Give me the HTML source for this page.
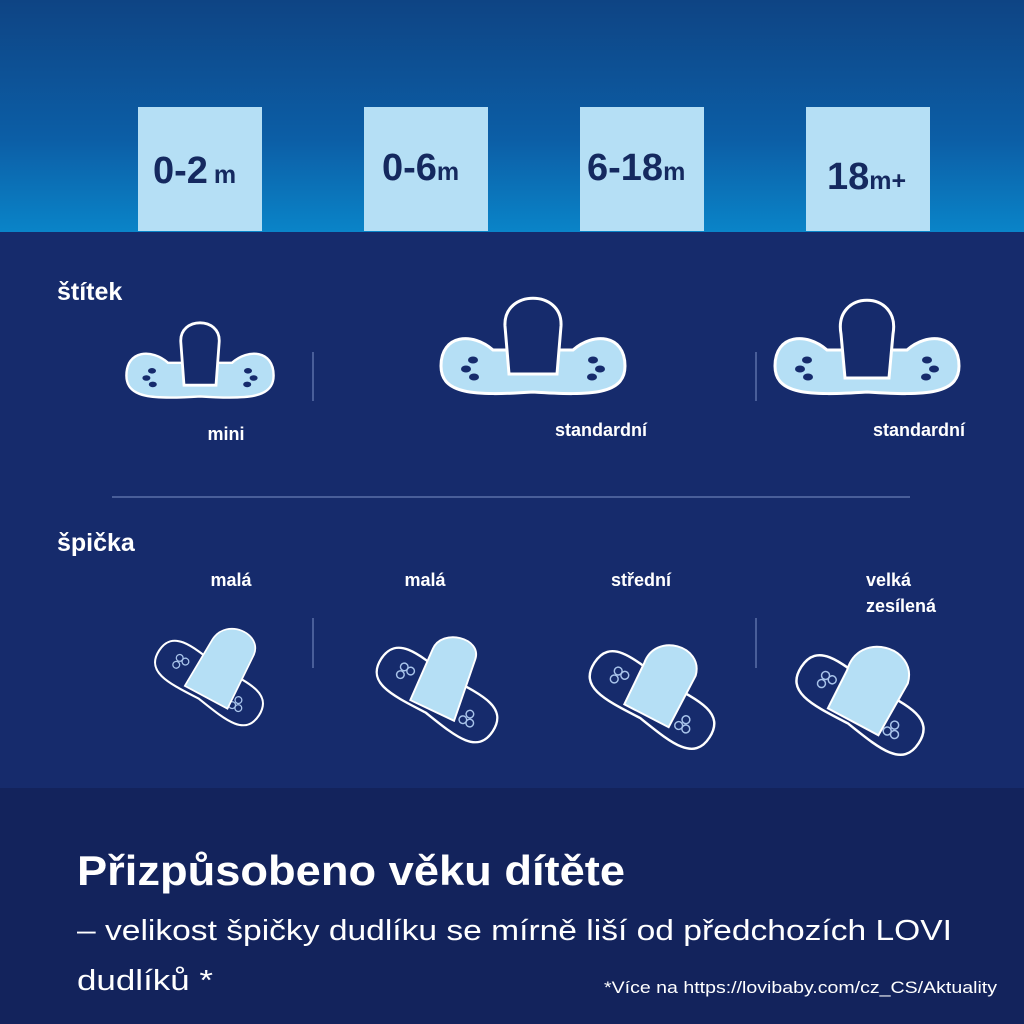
<!DOCTYPE html>
<html><head><meta charset="utf-8"><style>
html,body{margin:0;padding:0;width:1024px;height:1024px;overflow:hidden;background:#162b6c}
svg{display:block}
text{font-family:"Liberation Sans",sans-serif}
</style></head><body>
<svg width="1024" height="1024" viewBox="0 0 1024 1024" xmlns="http://www.w3.org/2000/svg">
<defs>
<linearGradient id="tg" x1="0" y1="0" x2="0" y2="1">
<stop offset="0" stop-color="#0e4484"/>
<stop offset="0.6" stop-color="#0c5ea6"/>
<stop offset="1" stop-color="#0a84c8"/>
</linearGradient>
<g id="shield">
<path d="M -40,-14 C -60,-32 -92,-30 -92,2 C -92,30 -60,32 0,28 C 60,32 92,30 92,2 C 92,-30 60,-32 40,-14 Z" fill="#b5dff5" stroke="#fff" stroke-width="3"/>
<g fill="#162b6c">
<ellipse cx="-60" cy="-4" rx="5" ry="3.5"/><ellipse cx="-67" cy="5" rx="5" ry="3.5"/><ellipse cx="-59" cy="13" rx="5" ry="3.5"/>
<ellipse cx="60" cy="-4" rx="5" ry="3.5"/><ellipse cx="67" cy="5" rx="5" ry="3.5"/><ellipse cx="59" cy="13" rx="5" ry="3.5"/>
</g>
</g>
<g id="tip">
<g transform="rotate(33)">
<path d="M -70,0 C -70,-30 -40,-26 0,-22 C 40,-26 70,-30 70,0 C 70,30 40,26 0,22 C -40,26 -70,30 -70,0 Z" fill="#162b6c" stroke="#fff" stroke-width="2.5"/>
<g fill="none" stroke="#a9c4ea" stroke-width="1.5">
<circle cx="-45" cy="-6" r="4"/><circle cx="-37" cy="-6" r="4"/><circle cx="-44" cy="3" r="4"/>
<circle cx="40" cy="-2" r="4"/><circle cx="45" cy="6" r="4"/><circle cx="37" cy="7" r="4"/>
</g>
</g>
</g>
</defs>
<rect x="0" y="0" width="1024" height="232" fill="url(#tg)"/>
<rect x="0" y="232" width="1024" height="556" fill="#162b6c"/>
<rect x="0" y="788" width="1024" height="236" fill="#13235c"/>
<g fill="#b5dff5">
<rect x="138" y="107" width="124" height="124"/>
<rect x="364" y="107" width="124" height="124"/>
<rect x="580" y="107" width="124" height="124"/>
<rect x="806" y="107" width="124" height="124"/>
</g>
<g fill="#15295f" font-weight="bold">
<text x="153" y="183" font-size="38">0-2<tspan font-size="25" dx="6">m</tspan></text>
<text x="382" y="180" font-size="38">0-6<tspan font-size="25">m</tspan></text>
<text x="587" y="180" font-size="38">6-18<tspan font-size="25">m</tspan></text>
<text x="827" y="189" font-size="38">18<tspan font-size="25">m+</tspan></text>
</g>
<g fill="#fff" font-weight="bold">
<text x="57" y="300" font-size="25">štítek</text>
<text x="57" y="551" font-size="25">špička</text>
<g font-size="18" text-anchor="middle">
<text x="226" y="440">mini</text>
<text x="601" y="436">standardní</text>
<text x="919" y="436">standardní</text>
<text x="231" y="586">malá</text>
<text x="425" y="586">malá</text>
<text x="641" y="586">střední</text>
</g>
<text x="866" y="586" font-size="18">velká</text>
<text x="866" y="612" font-size="18">zesílená</text>
</g>
<g stroke="#5a70a8" stroke-width="1.5">
<line x1="313" y1="352" x2="313" y2="401"/><line x1="756" y1="352" x2="756" y2="401"/>
<line x1="313" y1="618" x2="313" y2="668"/><line x1="756" y1="618" x2="756" y2="668"/>
<line x1="112" y1="497" x2="910" y2="497"/>
</g>
<g transform="translate(200,374) scale(0.8)"><use href="#shield"/>
<path d="M -20,14 L -24,-40 C -26,-72 26,-72 24,-40 L 20,14 Z" fill="#162b6c" stroke="#fff" stroke-width="3.5"/></g>
<g transform="translate(533,364)"><use href="#shield"/>
<path d="M -24,10 L -28,-38 C -30,-75 30,-75 28,-38 L 24,10 Z" fill="#162b6c" stroke="#fff" stroke-width="3"/></g>
<g transform="translate(867,364)"><use href="#shield"/>
<path d="M -22,14 L -26,-30 C -34,-75 34,-75 26,-30 L 22,14 Z" fill="#162b6c" stroke="#fff" stroke-width="3"/></g>
<g transform="translate(209,683) scale(0.85)"><use href="#tip"/>
<path d="M -26,12 L -12,-50 C -4,-80 42,-75 40,-48 L 30,22 Z" transform="rotate(18)" fill="#b5dff5" stroke="#fff" stroke-width="2"/></g>
<g transform="translate(437,695) scale(0.95)"><use href="#tip"/>
<path d="M -26,12 L -16,-46 C -12,-70 32,-70 30,-46 L 24,22 Z" transform="rotate(14)" fill="#b5dff5" stroke="#fff" stroke-width="2"/></g>
<g transform="translate(652,700) scale(0.98)"><use href="#tip"/>
<path d="M -26,12 L -18,-34 C -16,-68 36,-68 36,-36 L 24,22 Z" transform="rotate(16)" fill="#b5dff5" stroke="#fff" stroke-width="2"/></g>
<g transform="translate(860,705)"><use href="#tip"/>
<path d="M -30,12 L -22,-30 C -22,-72 40,-72 40,-34 L 26,24 Z" transform="rotate(16)" fill="#b5dff5" stroke="#fff" stroke-width="2"/></g>
<g fill="#fff">
<text x="77" y="885" font-size="42" font-weight="bold" textLength="548" lengthAdjust="spacingAndGlyphs">Přizpůsobeno věku dítěte</text>
<text x="77" y="940" font-size="29" textLength="875" lengthAdjust="spacingAndGlyphs">– velikost špičky dudlíku se mírně liší od předchozích LOVI</text>
<text x="77" y="990" font-size="29" textLength="136" lengthAdjust="spacingAndGlyphs">dudlíků *</text>
<text x="604" y="993" font-size="17" textLength="393" lengthAdjust="spacingAndGlyphs">*Více na https://lovibaby.com/cz_CS/Aktuality</text>
</g>
</svg>
</body></html>
